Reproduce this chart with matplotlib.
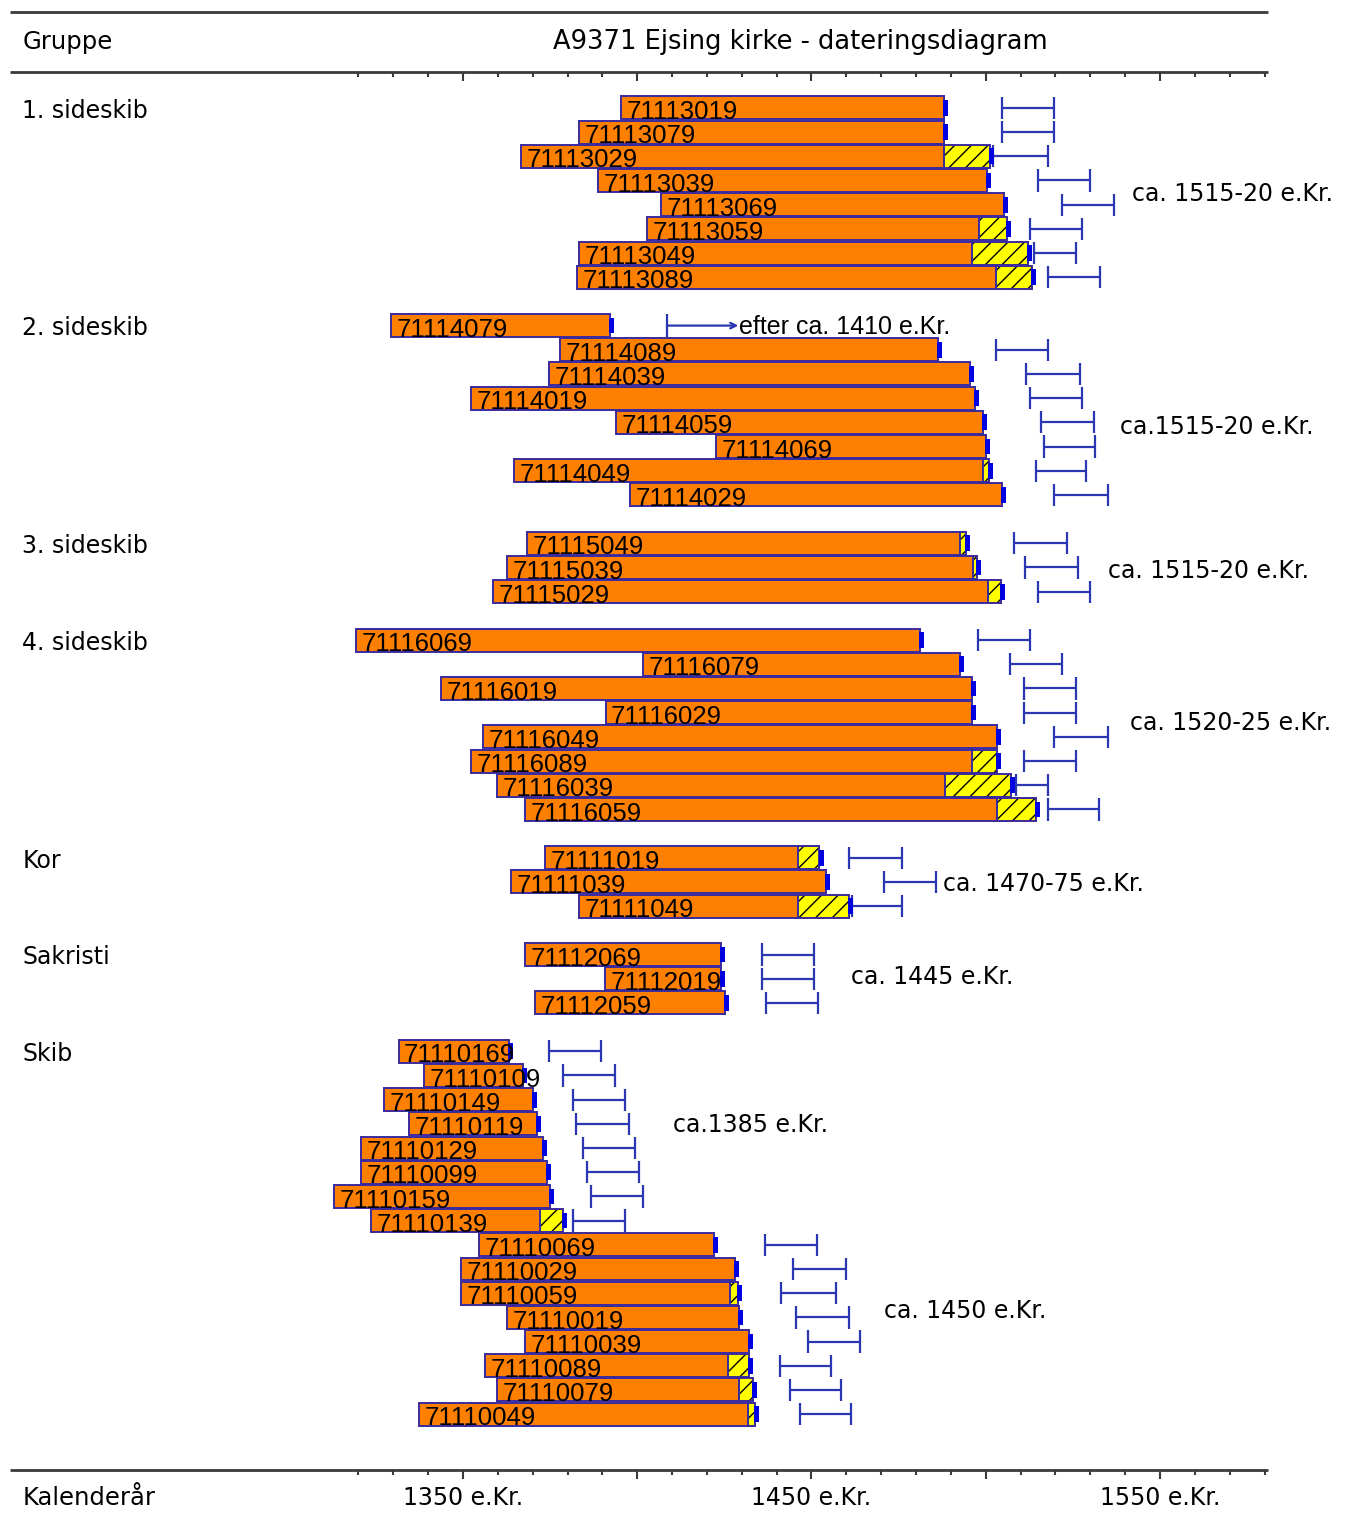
import numpy as np
import matplotlib
matplotlib.use("Agg")
import matplotlib.pyplot as plt

# Groups and how many samples each has
groups = ["1. sideskib", "2. sideskib", "3. sideskib", "4. sideskib", "Kor", "Sakristi", "Skib"]
group_sizes = [8, 8, 3, 8, 3, 3, 16]

# Sample numbers (top to bottom)
sample_ids = [
    "71113019", "71113079", "71113029", "71113039", "71113069", "71113059", "71113049", "71113089",
    "71114079", "71114089", "71114039", "71114019", "71114059", "71114069", "71114049", "71114029",
    "71115049", "71115039", "71115029",
    "71116069", "71116079", "71116019", "71116029", "71116049", "71116089", "71116039", "71116059",
    "71111019", "71111039", "71111049",
    "71112069", "71112019", "71112059",
    "71110169", "71110109", "71110149", "71110119", "71110129", "71110099", "71110159", "71110139",
    "71110069", "71110029", "71110059", "71110019", "71110039", "71110089", "71110079", "71110049",
]

# first ring
start_year = [
    1395.3, 1383.3, 1366.6, 1388.7, 1406.8, 1402.9, 1383.3, 1382.7,
    1329.3, 1377.8, 1374.7, 1352.3, 1393.9, 1422.6, 1364.6, 1397.9,
    1368.4, 1362.6, 1358.6,
    1319.4, 1401.6, 1343.7, 1390.9, 1355.7, 1352.3, 1359.8, 1367.8,
    1373.5, 1363.7, 1383.3,
    1367.8, 1390.7, 1370.7,
    1331.5, 1338.7, 1327.3, 1334.5, 1320.7, 1320.7, 1313.0, 1323.6,
    1354.6, 1349.4, 1349.4, 1362.6, 1367.8, 1356.3, 1359.8, 1337.4,
]

# last heartwood ring
heart_end = [
    1488.0, 1488.0, 1488.0, 1500.4, 1505.2, 1498.1, 1496.2, 1502.9,
    1392.2, 1486.3, 1495.5, 1496.9, 1499.2, 1500.1, 1499.2, 1504.7,
    1492.5, 1496.4, 1500.6,
    1481.1, 1492.6, 1496.1, 1496.1, 1503.2, 1496.1, 1488.3, 1503.2,
    1446.1, 1454.1, 1446.1,
    1424.0, 1424.0, 1425.2,
    1363.2, 1367.2, 1370.1, 1371.2, 1373.0, 1374.1, 1375.0, 1372.1,
    1421.9, 1428.0, 1426.6, 1429.2, 1432.0, 1426.0, 1429.1, 1431.8,
]

# last sapwood ring (same as heart_end when no sapwood)
sap_end = [
    1488.0, 1488.0, 1501.2, 1500.4, 1505.2, 1506.1, 1512.1, 1513.3,
    1392.2, 1486.3, 1495.5, 1496.9, 1499.2, 1500.1, 1500.9, 1504.7,
    1494.3, 1497.4, 1504.3,
    1481.1, 1492.6, 1496.1, 1496.1, 1503.2, 1503.2, 1507.2, 1514.3,
    1452.3, 1454.1, 1460.8,
    1424.0, 1424.0, 1425.2,
    1363.2, 1367.2, 1370.1, 1371.2, 1373.0, 1374.1, 1375.0, 1378.7,
    1421.9, 1428.0, 1428.9, 1429.2, 1432.0, 1432.0, 1433.2, 1433.8,
]

# felling interval
fell_lo = [
    1504.7, 1504.7, 1502.1, 1515.0, 1521.9, 1512.7, 1513.8, 1517.9,
    np.nan, 1502.9, 1511.5, 1512.7, 1515.9, 1516.7, 1514.4, 1519.7,
    1508.1, 1511.2, 1515.0,
    1497.8, 1507.0, 1511.0, 1511.0, 1519.7, 1511.0, 1508.7, 1517.9,
    1460.8, 1470.8, 1461.7,
    1435.8, 1435.8, 1436.9,
    1374.6, 1378.7, 1381.6, 1382.4, 1384.4, 1385.6, 1386.7, 1381.6,
    1436.7, 1444.7, 1441.2, 1445.6, 1449.0, 1441.0, 1443.8, 1446.7,
]
fell_hi = [
    1519.6, 1519.6, 1517.9, 1529.9, 1536.8, 1527.6, 1525.9, 1532.8,
    np.nan, 1517.9, 1527.0, 1527.5, 1531.1, 1531.3, 1528.8, 1535.1,
    1523.2, 1526.4, 1529.9,
    1512.7, 1521.9, 1526.0, 1526.0, 1535.1, 1526.0, 1517.9, 1532.5,
    1476.0, 1485.7, 1476.0,
    1450.6, 1450.6, 1451.9,
    1389.6, 1393.6, 1396.5, 1397.6, 1399.4, 1400.5, 1401.6, 1396.5,
    1451.6, 1459.9, 1457.0, 1460.8, 1463.9, 1455.6, 1458.5, 1461.3,
]

# 71114079: only "felled after"
after_from, after_to = 1408.5, 1429.0
after_text = "efter ca. 1410 e.Kr."

notes = ["ca. 1515-20 e.Kr.", "ca.1515-20 e.Kr.", "ca. 1515-20 e.Kr.", "ca. 1520-25 e.Kr.",
         "ca. 1470-75 e.Kr.", "ca. 1445 e.Kr.", "ca.1385 e.Kr.", "ca. 1450 e.Kr."]
note_pos = [(1542.0, 3.56), (1538.5, 13.19), (1535.1, 19.14), (1541.4, 25.42),
            (1487.7, 32.08), (1461.3, 35.92), (1410.3, 42.04), (1470.8, 49.73)]

tick_years = np.arange(1320, 1590, 10)
label_years = [1350, 1450, 1550]

# rows: one empty row between groups
rows = []
group_rows = []
r = 0
for n in group_sizes:
    group_rows.append(r)
    rows.extend(range(r, r + n))
    r += n + 1

ORANGE = "#ff8000"
EDGE = "#3a2a9e"
BLUE = "#2a36b2"
MARK = "#0000e0"
LINE = "#3a3a3a"
font_main = "DejaVu Sans"
font_lab = "Liberation Sans"

fig = plt.figure(figsize=(13.52, 15.23), dpi=100)
ax = fig.add_axes([0, 0, 1, 1])
ax.set_xlim(1217.15, 1605.1)
ax.set_ylim(58.5, -4.46)
ax.axis("off")

h = 0.95
for i, row in enumerate(rows):
    z = 3 + 3 * i
    ax.barh(row, heart_end[i] - start_year[i], left=start_year[i], height=h,
            color=ORANGE, edgecolor=EDGE, linewidth=1.4, zorder=z)
    if sap_end[i] > heart_end[i]:
        ax.barh(row, sap_end[i] - heart_end[i], left=heart_end[i], height=h,
                color="#ffff00", edgecolor="black", hatch="//", linewidth=0, zorder=z)
        ax.barh(row, sap_end[i] - heart_end[i], left=heart_end[i], height=h,
                fill=False, edgecolor=EDGE, linewidth=1.4, zorder=z)
    ax.barh(row, 1.4, left=sap_end[i] - 0.2, height=0.65, color=MARK, linewidth=0, zorder=z + 1)
    ax.text(start_year[i] + 1.6, row + 0.46, sample_ids[i], fontsize=18.5, family=font_lab,
            va="baseline", ha="left", color="black", zorder=z + 2)

    if not np.isnan(fell_lo[i]):
        ax.hlines(row, fell_lo[i], fell_hi[i], color=BLUE, linewidth=1.6, zorder=2)
        ax.vlines([fell_lo[i], fell_hi[i]], row - 0.46, row + 0.46, color=BLUE, linewidth=1.6, zorder=2)

# the one sample with only a terminus post quem
arow = rows[sample_ids.index("71114079")]
ax.vlines(after_from, arow - 0.46, arow + 0.46, color=BLUE, linewidth=1.6)
ax.annotate("", xy=(after_to, arow), xytext=(after_from, arow),
            arrowprops=dict(arrowstyle="->", color=BLUE, lw=1.6, shrinkA=0, shrinkB=0))
ax.text(after_to + 0.3, arow + 0.05, after_text, fontsize=18, family=font_lab, va="center", ha="left")

for txt, (x, y) in zip(notes, note_pos):
    ax.text(x, y, txt, fontsize=17, family=font_main, va="center", ha="left")

for g, gr in zip(groups, group_rows):
    ax.text(1223.5, gr + 0.12, g, fontsize=17, family=font_main, va="center", ha="left")

# frame lines and ticks
ax.hlines([-3.97, -1.49, 56.30], 1220.0, 1581.0, color=LINE, linewidth=2)
for base in [-1.49, 56.30]:
    for t in tick_years:
        ln = 0.38 if t % 50 == 0 else 0.22
        ax.vlines(t, base, base + ln, color=LINE, linewidth=1.5)

ax.text(1223.5, -2.72, "Gruppe", fontsize=17.5, family=font_main, va="center", ha="left")
ax.text(1446.7, -2.72, "A9371 Ejsing kirke - dateringsdiagram", fontsize=18.5,
        family=font_main, va="center", ha="center")
ax.text(1223.5, 57.46, "Kalenderår", fontsize=17.5, family=font_main, va="center", ha="left")
for y in label_years:
    ax.text(y, 57.46, f"{y} e.Kr.", fontsize=17, family=font_main, va="center", ha="center")

fig.savefig("out.png", dpi=100)
